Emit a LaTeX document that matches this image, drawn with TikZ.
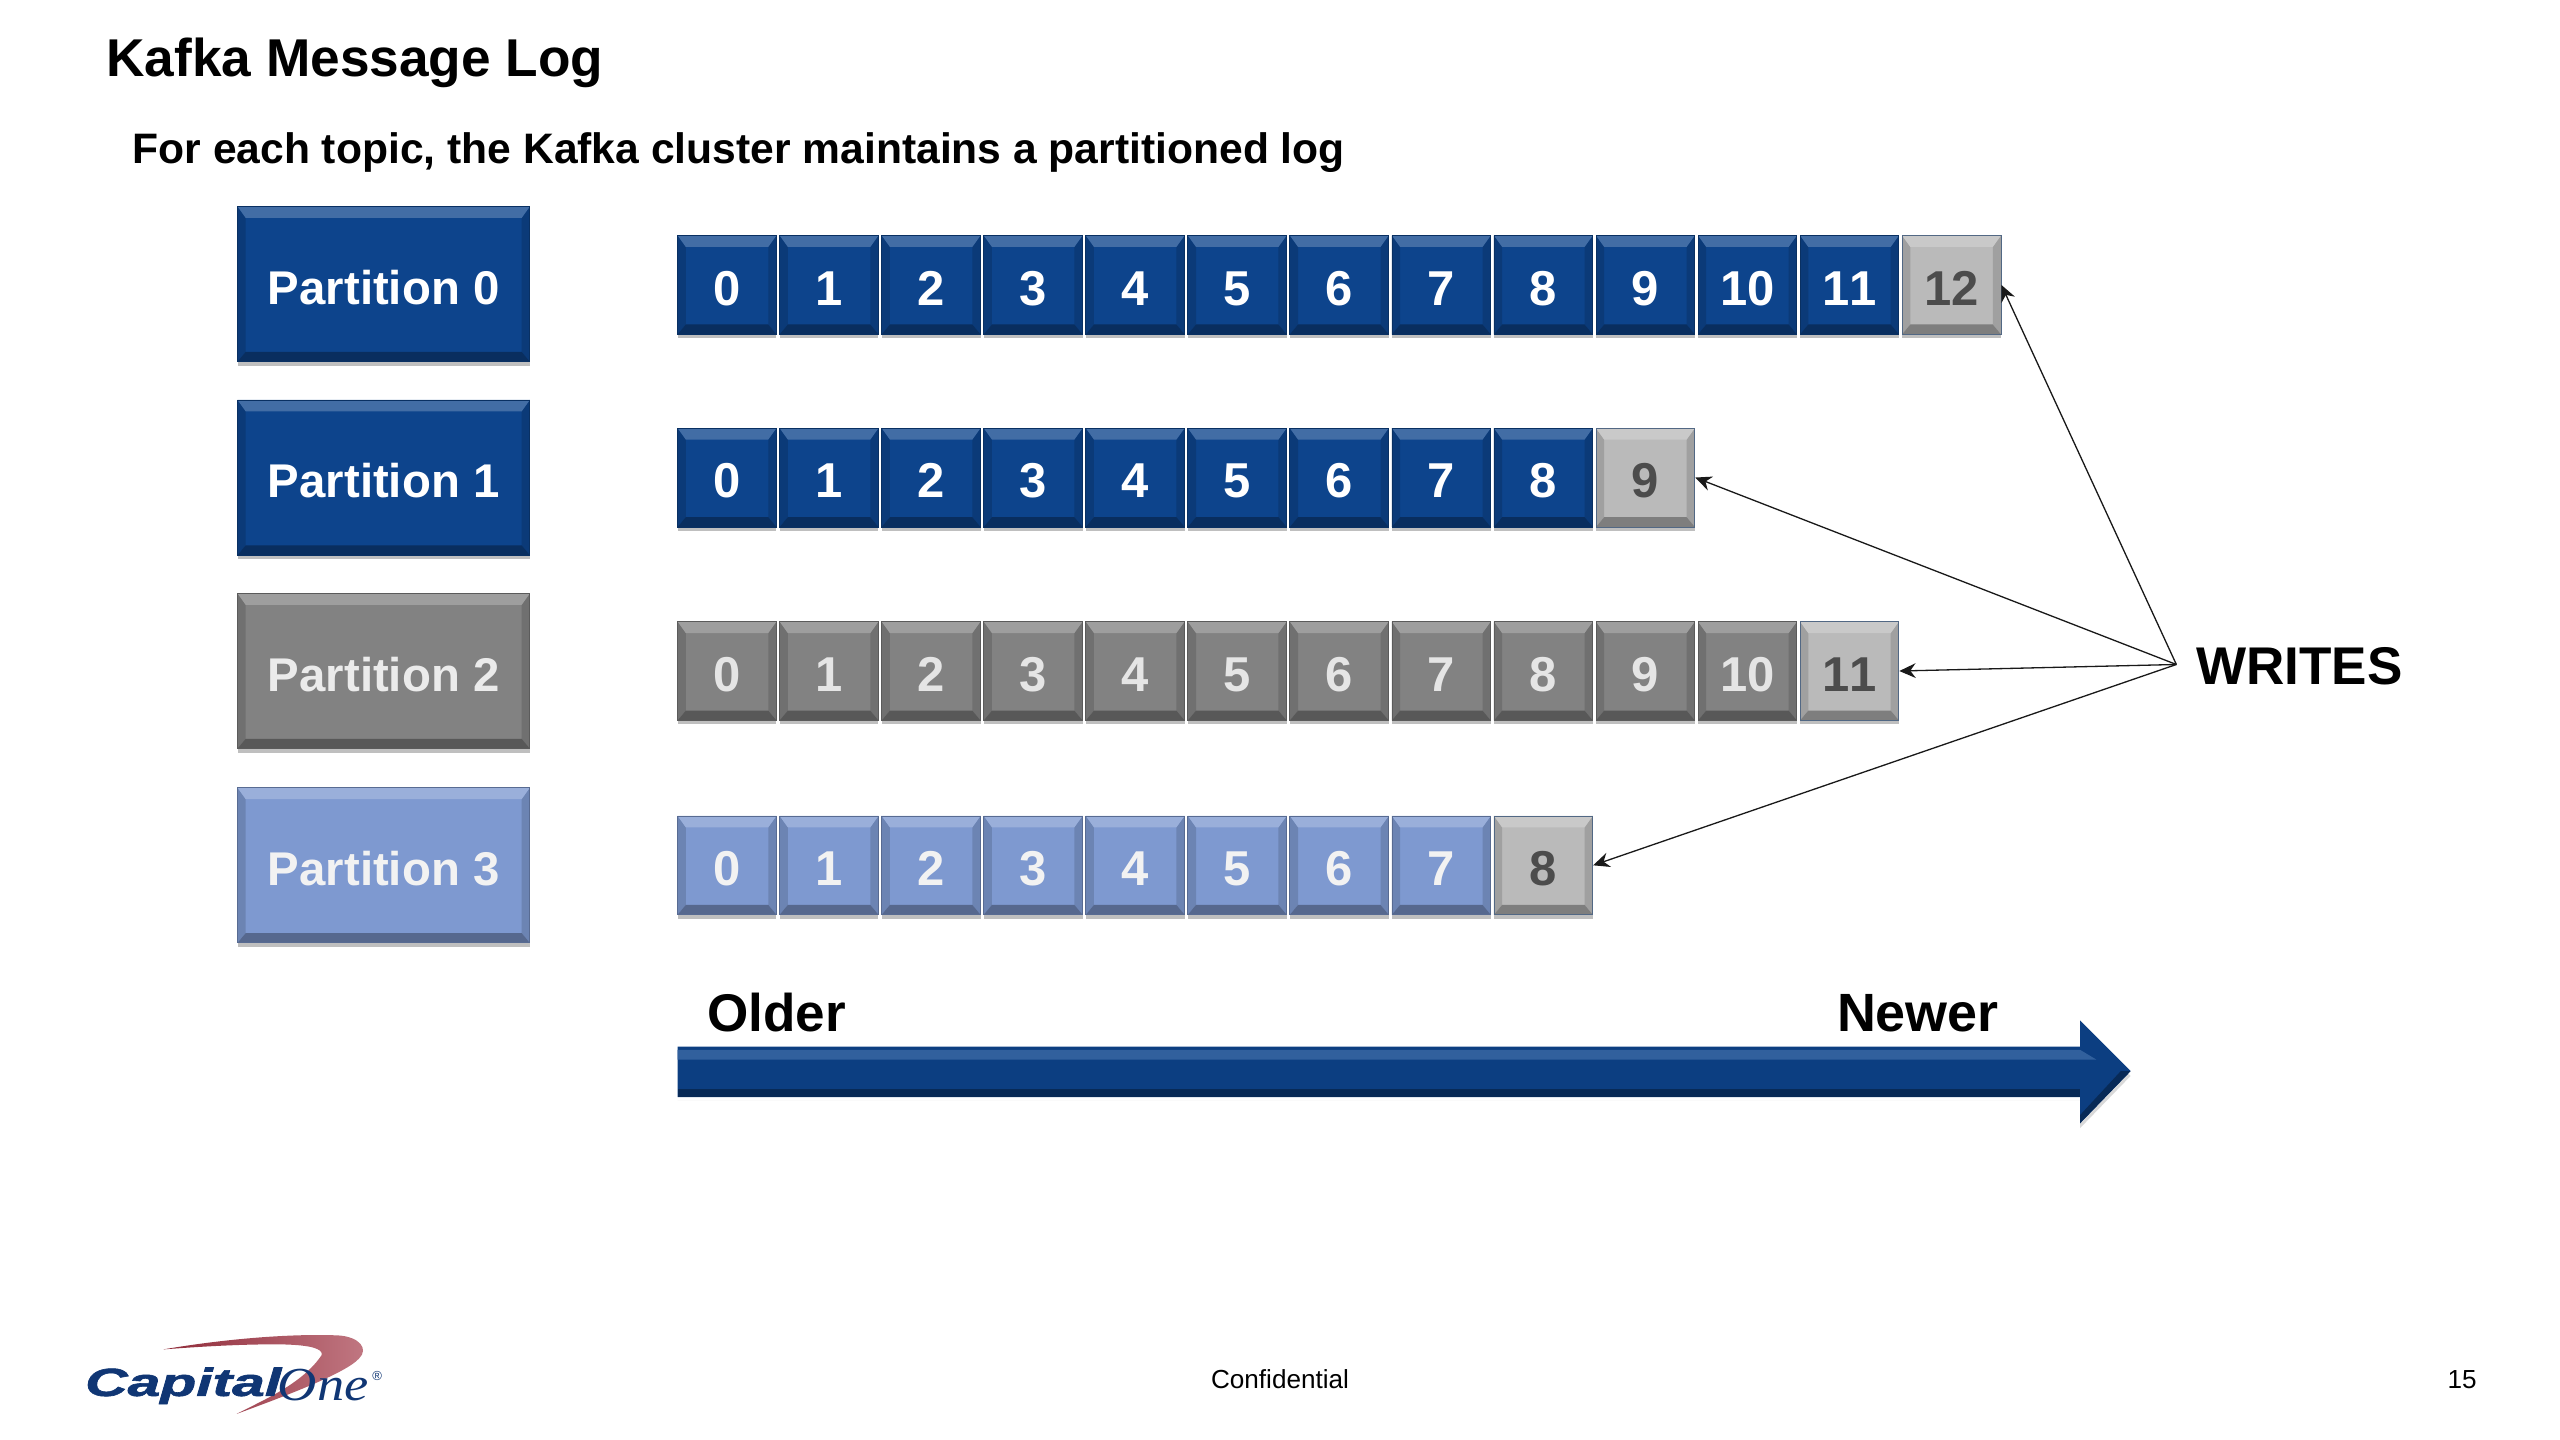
\documentclass[tikz,border=0pt]{standalone}
\usepackage{fontspec}
\setmainfont{Liberation Sans}
\newfontfamily\logoserif{Liberation Serif}
\usepackage{xcolor}
\usetikzlibrary{calc,shadows,arrows.meta}

\definecolor{navycell}{RGB}{13,68,140}
\definecolor{graycell}{RGB}{130,130,130}
\definecolor{paleblue}{RGB}{126,153,208}
\definecolor{newcell}{RGB}{186,186,186}
\definecolor{logoblue}{RGB}{16,54,116}
\definecolor{logored}{RGB}{160,48,64}

\tikzset{
  bevelbox/.style={draw=#1!70!black, line width=0.5pt, fill=#1, inner sep=0pt,
    drop shadow={shadow xshift=0pt, shadow yshift=-2.5pt, opacity=0.25, fill=black},
    path picture={
      \coordinate (nw) at (path picture bounding box.north west);
      \coordinate (ne) at (path picture bounding box.north east);
      \coordinate (sw) at (path picture bounding box.south west);
      \coordinate (se) at (path picture bounding box.south east);
      % no flip of y in here
      \fill[#1!86!black] (nw) -- ($(nw)+(5,-7)$) -- ($(sw)+(5,6)$) -- (sw) -- cycle;
      \fill[#1!86!black] (ne) -- ($(ne)+(-5,-7)$) -- ($(se)+(-5,6)$) -- (se) -- cycle;
      \fill[#1!78!white] (nw) -- (ne) -- ($(ne)+(-5,-7)$) -- ($(nw)+(5,-7)$) -- cycle;
      \fill[#1!68!black] (sw) -- (se) -- ($(se)+(-5,6)$) -- ($(sw)+(5,6)$) -- cycle;
    }},
  partbox/.style={bevelbox=#1, minimum width=179pt, minimum height=95pt,
    text height=25pt, text depth=0pt,
    font=\fontsize{29}{32}\selectfont\bfseries},
  cellbox/.style={bevelbox=#1, minimum width=60.5pt, minimum height=60.5pt,
    text height=25pt, text depth=0pt,
    font=\fontsize{30}{32}\selectfont\bfseries\addfontfeature{Kerning=Off}},
  writearrow/.style={-{Stealth[length=10pt,width=9pt]}, line width=0.8pt, black!90},
  plainlabel/.style={inner sep=0pt, anchor=base west, font=\bfseries}
}

\begin{document}
\begin{tikzpicture}[x=1pt,y=1pt,yscale=-1,xscale=1]
    \useasboundingbox (0,0) rectangle (1568,882);

    % Titles
    \node[plainlabel, font=\fontsize{32.6}{36}\selectfont\bfseries] (title) at (65,47) {Kafka Message Log};
    \node[plainlabel, font=\fontsize{26.1}{30}\selectfont\bfseries] (subtitle) at (81,100) {For each topic, the Kafka cluster maintains a partitioned log};

    % Partition boxes
    \node[partbox=navycell, text=white] (part0) at (235,174) {Partition 0};
    \node[partbox=navycell, text=white] (part1) at (235,292.5) {Partition 1};
    \node[partbox=graycell, text=white!92!black] (part2) at (235,411) {Partition 2};
    \node[partbox=paleblue, text=white!95!black] (part3) at (235,530) {Partition 3};

    % Log cells, the last of each row is the newest one
    \foreach \row/\ypos/\lastcell/\cellcol/\numcol in {0/174.5/12/navycell/white, 1/292.5/9/navycell/white, 2/411/11/graycell/white!90!black, 3/530/8/paleblue/white!95!black} {
      \foreach \i in {0,...,\lastcell} {
        \ifnum\i=\lastcell
          \node[cellbox=newcell, draw=navycell!40!gray, text=black!70] (c\row-\i) at ({445.3+62.5*\i},\ypos) {\i};
        \else
          \node[cellbox=\cellcol, text=\numcol] (c\row-\i) at ({445.3+62.5*\i},\ypos) {\i};
        \fi
      }
    }

    % Writes
    \coordinate (writes) at (1333,407);
    \node[plainlabel, font=\fontsize{32.5}{36}\selectfont\bfseries] (writeslabel) at (1345,419) {WRITES};
    \draw[writearrow] (writes) -- (c0-12.east);
    \draw[writearrow] (writes) -- (c1-9.east);
    \draw[writearrow] (writes) -- (c2-11.east);
    \draw[writearrow] (writes) -- (c3-8.east);

    % Older to newer arrow
    \fill[black, opacity=0.15] (415,674) -- (1274,674) -- (1274,691) -- (1305,659) -- (1274,628) -- (1274,674) -- cycle;
    \fill[navycell!92!black] (415,641) -- (1274,641) -- (1274,625) -- (1305,656) -- (1274,688) -- (1274,672) -- (415,672) -- cycle;
    \fill[navycell!85!white] (415,643) -- (1274,643) -- (1284,649) -- (415,649) -- cycle;
    \fill[navycell!62!black] (415,667) -- (1274,667) -- (1274,672) -- (415,672) -- cycle;
    \fill[navycell!62!black] (1305,656) -- (1274,688) -- (1274,683) -- (1299,656) -- cycle;
    \node[plainlabel, font=\fontsize{32.5}{36}\selectfont\bfseries] (older) at (433,632) {Older};
    \node[plainlabel, font=\fontsize{33}{36}\selectfont\bfseries] (newer) at (1125,632) {Newer};

    % Footer
    \shade[left color=logored!90!black, right color=logored!65!white] (100,826.5) .. controls (150,818) and (190,817) .. (208,818) .. controls (220,819) and (226,826) .. (220,832) .. controls (212,841) and (175,855) .. (145,866) .. controls (160,858) and (185,848) .. (197,830) .. controls (198,826) and (190,824) .. (175,823.5) .. controls (150,823) and (120,825) .. cycle;
    \node[inner sep=0pt, anchor=base west, text=logoblue, font=\fontsize{24}{26}\selectfont\bfseries\itshape\addfontfeature{FakeBold=1.5}] (logocap) at (52,855) {\scalebox{1.5}[1]{Capital}};
    \node[inner sep=0pt, anchor=base west, text=logoblue, font=\fontsize{29}{30}\selectfont\logoserif\itshape] (logoone) at (170,858) {\scalebox{1.15}[1]{One}};
    \node[inner sep=0pt, text=logoblue, font=\fontsize{8}{9}\selectfont] (logoreg) at (231,843) {®};
    \node[inner sep=0pt, font=\fontsize{16}{18}\selectfont] (confidential) at (784,845) {Confidential};
    \node[inner sep=0pt, font=\fontsize{16}{18}\selectfont] (pagenum) at (1508,845) {15};
\end{tikzpicture}
\end{document}
